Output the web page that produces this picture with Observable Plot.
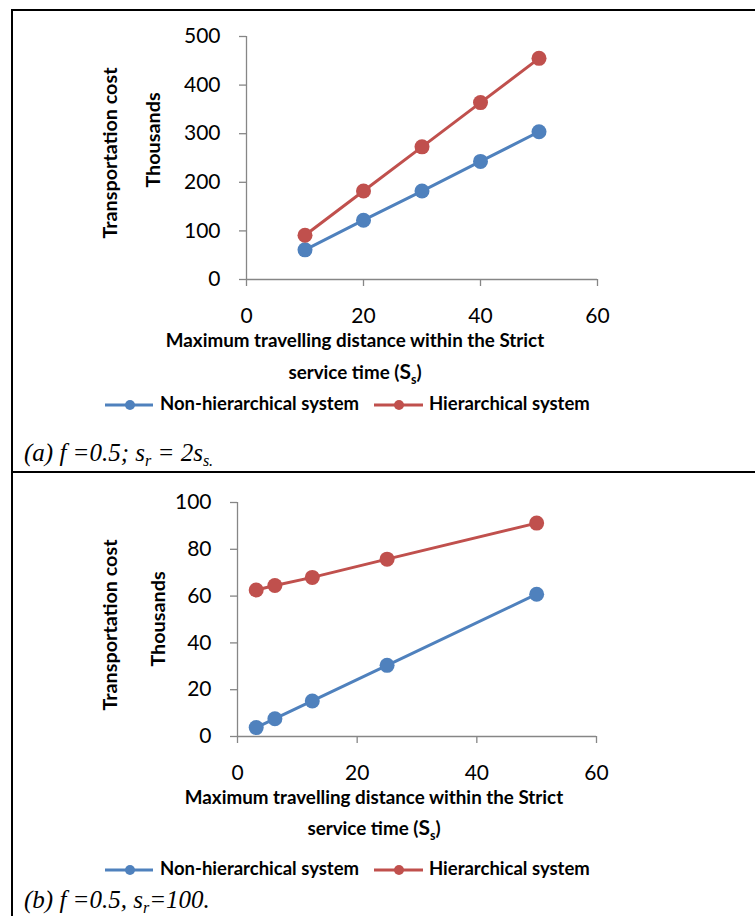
<!DOCTYPE html>
<html><head><meta charset="utf-8">
<script src="https://cdn.jsdelivr.net/npm/d3@7"></script>
<script src="https://cdn.jsdelivr.net/npm/@observablehq/plot@0.6"></script>
<style>
body{margin:0;background:#fff;}
#page{position:relative;width:755px;height:916px;overflow:hidden;font-family:Lato,sans-serif;color:#000;}
.rule{position:absolute;background:#000;}
.plot{position:absolute;left:0;}
.title{position:absolute;font-weight:bold;white-space:nowrap;transform:translate(-50%,-50%);font-size:18.8px;line-height:1;}
.vtitle{transform:translate(-50%,-50%) rotate(-90deg);font-size:19.8px;}
.leg{position:absolute;font-weight:bold;font-size:18.5px;white-space:nowrap;line-height:1;transform:translateY(-50%);}
.sw{position:absolute;transform:translateY(-50%);}
.cap{position:absolute;font-family:"Liberation Serif",serif;font-style:italic;font-size:25px;white-space:nowrap;line-height:1;}
.cap sub{font-size:16px;vertical-align:-5px;line-height:0;}
.title sub{font-size:12.5px;vertical-align:-5px;line-height:0;}
</style>
</head><body>
<div id="page"></div>
<script>
// ---- data ----
const series = ["Non-hierarchical system", "Hierarchical system"];
const colors = ["#4F81BD", "#C0504D"];
const xTicks = [0, 20, 40, 60];

// panel (a): f = 0.5; s_r = 2 s_s
const xA = [10, 20, 30, 40, 50];
const nonHierA = [61, 122, 182, 243, 304];
const hierA = [91, 182, 273, 364, 455];
const yTicksA = [0, 100, 200, 300, 400, 500];

// panel (b): f = 0.5, s_r = 100
const xB = [3.125, 6.25, 12.5, 25, 50];
const nonHierB = [3.8, 7.6, 15.2, 30.4, 60.8];
const hierB = [62.6, 64.5, 68.0, 75.8, 91.2];
const yTicksB = [0, 20, 40, 60, 80, 100];

const page = document.getElementById("page");

function el(tag, cls, style, html) {
  const e = document.createElement(tag);
  if (cls) e.className = cls;
  Object.assign(e.style, style || {});
  if (html != null) e.innerHTML = html;
  page.appendChild(e);
  return e;
}

function makePlot(xs, nonHier, hier, yTicks, layout) {
  const rows = [];
  xs.forEach((x, i) => rows.push({x, y: nonHier[i], s: series[0]}));
  xs.forEach((x, i) => rows.push({x, y: hier[i], s: series[1]}));
  const chart = Plot.plot({
    width: 755,
    height: layout.height,
    marginTop: layout.marginTop,
    marginBottom: layout.marginBottom,
    marginLeft: layout.marginLeft,
    marginRight: layout.marginRight,
    style: {fontFamily: "Lato, sans-serif", fontSize: "21px", background: "transparent", color: "#000", overflow: "visible"},
    x: {domain: [0, 60], label: null},
    y: {domain: [0, yTicks[yTicks.length - 1]], label: null},
    color: {domain: series, range: colors},
    marks: [
      Plot.axisY({ticks: yTicks, tickSize: 7, tickPadding: 19, stroke: "#868686", fill: "#000", strokeWidth: 1.3, tickFormat: d => String(d)}),
      Plot.axisX({ticks: xTicks, tickSize: 7, tickPadding: 22, stroke: "#868686", fill: "#000", strokeWidth: 1.3, tickFormat: d => String(d)}),
      Plot.ruleX([0], {stroke: "#868686", strokeWidth: 1.3}),
      Plot.ruleY([0], {stroke: "#868686", strokeWidth: 1.3}),
      Plot.line(rows, {x: "x", y: "y", z: "s", stroke: "s", strokeWidth: 3}),
      Plot.dot(rows, {x: "x", y: "y", fill: "s", r: 7.5})
    ]
  });
  chart.classList.add("plot");
  chart.style.top = layout.top + "px";
  page.appendChild(chart);
}

// borders
el("div", "rule", {left: "11px", top: "9px", width: "2px", height: "907px"});
el("div", "rule", {left: "11px", top: "9px", width: "744px", height: "2px"});
el("div", "rule", {left: "11px", top: "471px", width: "744px", height: "2px"});

makePlot(xA, nonHierA, hierA, yTicksA, {top: 0, height: 330, marginTop: 36, marginBottom: 51, marginLeft: 246, marginRight: 158});
makePlot(xB, nonHierB, hierB, yTicksB, {top: 473, height: 314, marginTop: 29, marginBottom: 51, marginLeft: 237, marginRight: 159});

function titles(o) {
  el("div", "title vtitle", {left: o.t1x + "px", top: o.t1y + "px"}, "Transportation cost");
  el("div", "title vtitle", {left: o.t2x + "px", top: o.t2y + "px"}, "Thousands");
  el("div", "title", {left: o.xl + "px", top: o.l1 + "px"}, "Maximum travelling distance within the Strict");
  el("div", "title", {left: o.xl + "px", top: o.l2 + "px"}, "service time (<span style='font-size:21px'>S</span><sub>s</sub>)");
  // legend
  [[105, 153, 130, 160], [374, 423, 399, 429]].forEach(([x0, x1, cx, tx], i) => {
    const w = x1 - x0;
    el("div", "sw", {left: x0 + "px", top: o.ly + "px", width: w + "px", height: "14px"},
      `<svg width="${w}" height="14"><line x1="0" x2="${w}" y1="7" y2="7" stroke="${colors[i]}" stroke-width="3"/><circle cx="${cx - x0}" cy="7" r="5" fill="${colors[i]}"/></svg>`);
    el("div", "leg", {left: tx + "px", top: o.ly + "px"}, series[i]);
  });
  el("div", "cap", {left: "24px", top: o.cap + "px"}, o.capHtml);
}

titles({t1x: 110, t1y: 153, t2x: 153, t2y: 140, xl: 355, l1: 340, l2: 371, ly: 403, cap: 440,
  capHtml: "(a) f =0.5; s<sub>r</sub> = 2s<sub>s.</sub>"});
titles({t1x: 110, t1y: 625, t2x: 158, t2y: 619, xl: 374, l1: 797, l2: 827, ly: 868, cap: 887,
  capHtml: "(b) f =0.5, s<sub>r</sub>=100."});
</script>
</body></html>
